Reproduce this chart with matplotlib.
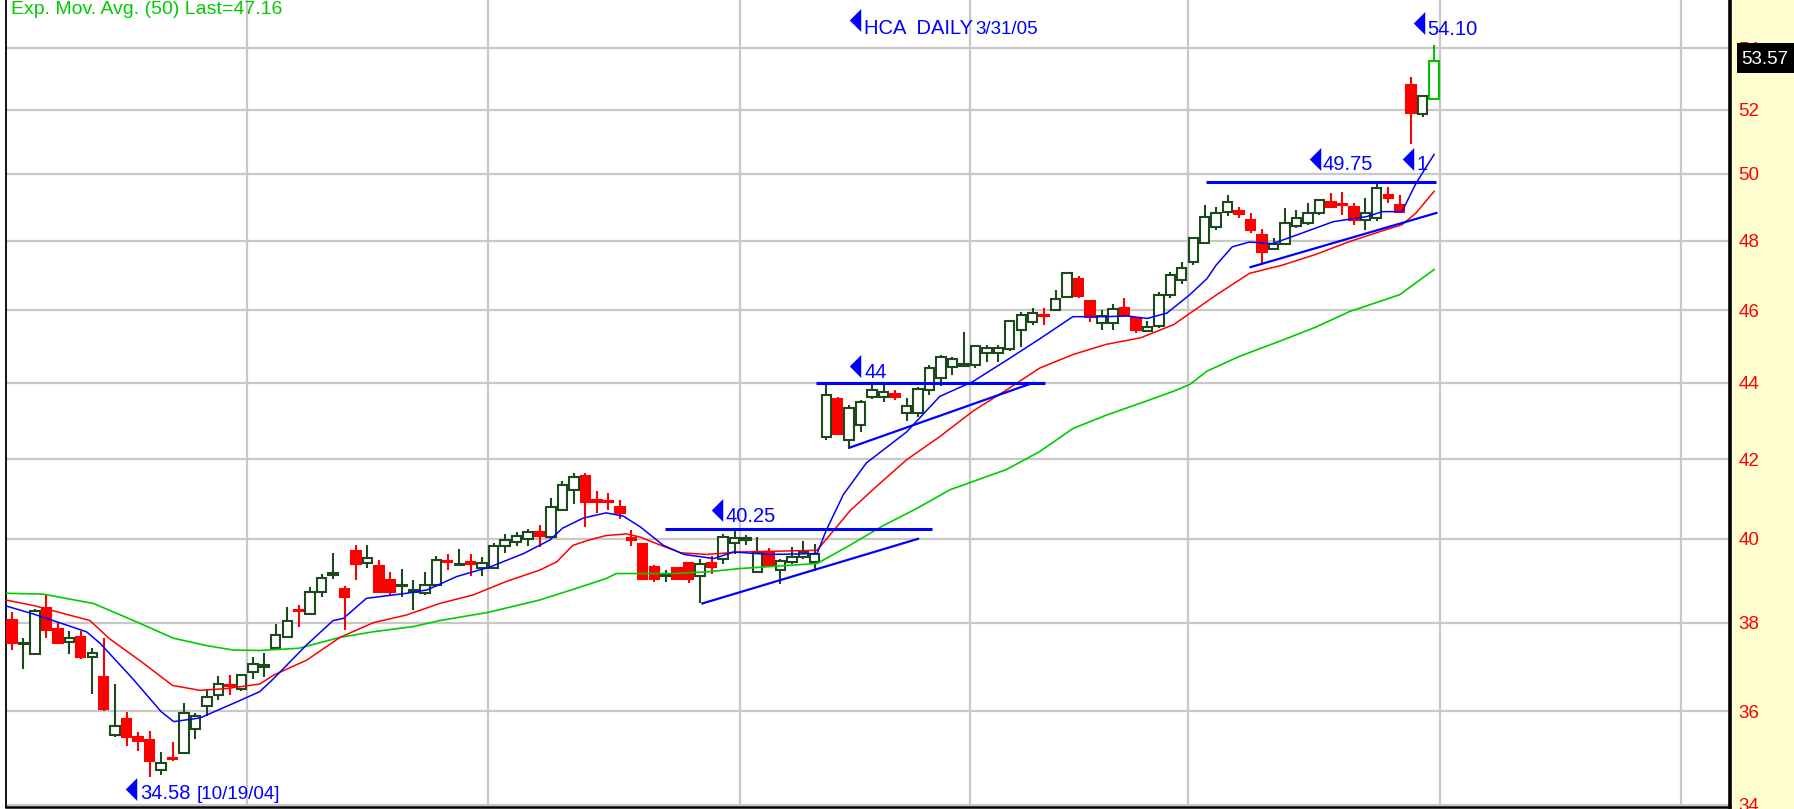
import numpy as np
import matplotlib
matplotlib.use("Agg")
import matplotlib.pyplot as plt
from matplotlib.patches import Rectangle
from matplotlib.ticker import NullLocator

# HCA daily bars, one per trading day from 10/1/04 to 3/31/05
opens = [38.06, 37.50, 37.29, 38.35, 37.85, 37.55, 37.66, 37.20, 36.77, 35.48,
         35.82, 35.43, 35.38, 34.73, 34.98, 35.10, 35.61, 36.11, 36.36, 36.58,
         36.49, 36.88, 36.98, 37.41, 37.68, 38.29, 38.21, 38.73, 39.13, 38.79,
         39.70, 39.41, 39.33, 39.00, 38.86, 38.73, 38.70, 38.89, 39.47, 39.37,
         39.43, 39.30, 39.30, 39.83, 39.93, 40.00, 40.16, 40.04, 40.72, 41.20,
         41.57, 40.95, 40.94, 40.78, 40.03, 39.87, 39.32, 39.10, 39.30, 39.42,
         39.10, 39.42, 39.52, 39.90, 39.97, 39.20, 39.68, 39.24, 39.44, 39.56,
         39.44, 42.56, 43.58, 42.48, 42.88, 43.63, 43.63, 43.70, 43.20, 43.20,
         43.82, 44.14, 44.42, 44.47, 44.49, 44.80, 44.80, 44.91, 45.45, 45.68,
         45.88, 46.00, 46.37, 46.88, 46.25, 45.63, 45.65, 46.06, 45.77, 45.42,
         45.56, 46.43, 46.86, 47.39, 47.92, 48.41, 48.86, 48.89, 48.61, 48.17,
         47.75, 47.90, 48.43, 48.51, 48.81, 49.16, 49.10, 49.01, 48.61, 48.66,
         49.36, 49.06, 52.80, 51.87, 52.35]
highs = [38.26, 37.64, 38.32, 38.65, 38.02, 37.81, 37.81, 37.42, 37.64, 36.61,
         35.97, 35.55, 35.57, 35.12, 35.33, 36.19, 35.96, 36.49, 36.79, 36.81,
         36.82, 37.20, 37.30, 37.98, 38.37, 38.41, 38.85, 39.16, 39.65, 38.87,
         39.86, 39.86, 39.48, 39.20, 39.28, 39.00, 39.20, 39.57, 39.64, 39.76,
         39.64, 39.56, 39.91, 40.11, 40.16, 40.25, 40.33, 41.00, 41.44, 41.64,
         41.64, 41.19, 41.14, 40.96, 40.21, 39.91, 39.36, 39.24, 39.30, 39.42,
         39.52, 39.58, 40.12, 40.25, 40.10, 40.05, 39.77, 39.52, 39.80, 39.94,
         39.88, 44.00, 43.63, 43.41, 43.55, 44.00, 44.00, 43.81, 43.59, 43.90,
         44.48, 44.75, 44.71, 45.40, 45.03, 45.03, 45.03, 45.72, 45.96, 46.06,
         46.06, 46.57, 47.07, 46.97, 46.30, 46.00, 46.17, 46.36, 45.82, 45.70,
         46.52, 47.10, 47.38, 48.12, 49.06, 49.01, 49.36, 49.01, 48.83, 48.33,
         48.07, 48.96, 48.91, 49.11, 49.23, 49.43, 49.46, 49.11, 49.26, 49.75,
         49.61, 49.36, 53.04, 52.48, 54.10]
lows = [37.38, 36.94, 37.25, 37.64, 37.50, 37.27, 37.16, 36.37, 36.00, 35.44,
        35.25, 35.14, 34.58, 34.62, 34.92, 35.07, 35.40, 35.89, 36.24, 36.36,
        36.45, 36.71, 36.75, 37.37, 37.66, 37.91, 38.17, 38.61, 39.04, 37.83,
        39.00, 39.30, 38.73, 38.65, 38.61, 38.30, 38.65, 38.85, 39.24, 39.36,
        39.10, 39.10, 39.28, 39.66, 39.83, 39.83, 39.80, 40.00, 40.68, 40.85,
        40.30, 40.63, 40.72, 40.50, 39.83, 39.00, 38.96, 38.96, 39.00, 38.93,
        38.47, 39.16, 39.40, 39.64, 39.85, 39.18, 39.32, 38.92, 39.40, 39.52,
        39.28, 42.48, 42.62, 42.26, 42.71, 43.58, 43.50, 43.54, 43.00, 43.10,
        43.67, 43.93, 44.21, 44.44, 44.40, 44.57, 44.57, 44.87, 44.98, 45.59,
        45.59, 45.99, 46.34, 46.34, 45.68, 45.44, 45.46, 45.82, 45.36, 45.42,
        45.50, 46.34, 46.74, 47.29, 47.90, 48.31, 48.72, 48.66, 48.23, 47.36,
        47.72, 47.87, 48.36, 48.46, 48.76, 48.96, 48.76, 48.46, 48.31, 48.59,
        49.11, 48.81, 50.93, 51.77, 52.35]
closes = [37.53, 37.52, 38.28, 37.83, 37.53, 37.64, 37.20, 37.31, 36.04, 35.67,
          35.44, 35.34, 34.92, 34.87, 34.96, 35.96, 35.89, 36.31, 36.60, 36.55,
          36.81, 37.06, 37.03, 37.72, 38.05, 38.27, 38.73, 39.05, 39.17, 38.61,
          39.40, 39.53, 38.73, 38.73, 38.88, 38.75, 38.89, 39.48, 39.44, 39.39,
          39.40, 39.42, 39.83, 39.98, 40.08, 40.16, 40.06, 40.78, 41.35, 41.55,
          40.92, 40.91, 40.90, 40.63, 39.97, 39.04, 39.04, 39.12, 39.04, 39.04,
          39.40, 39.32, 40.05, 40.02, 40.02, 39.67, 39.34, 39.45, 39.56, 39.68,
          39.64, 43.67, 42.66, 43.32, 43.49, 43.80, 43.77, 43.63, 43.38, 43.83,
          44.41, 44.71, 44.64, 44.51, 45.00, 44.94, 44.94, 45.70, 45.87, 45.92,
          45.85, 46.33, 47.05, 46.41, 45.82, 45.84, 46.03, 45.87, 45.46, 45.54,
          46.43, 47.00, 47.19, 48.07, 48.71, 48.83, 49.14, 48.79, 48.31, 47.68,
          47.90, 48.53, 48.66, 48.81, 49.21, 49.01, 49.07, 48.61, 48.83, 49.56,
          49.26, 48.86, 51.91, 52.44, 53.57]

ema_fast_x = [-0.5, 1.9, 6.5, 7.7, 10.6, 13.0, 14.1, 16.4, 19.3, 21.6, 22.8, 25.7,
              28.0, 28.9, 30.9, 34.4, 36.2, 38.8, 41.7, 44.6, 46.9, 48.0, 49.8,
              51.8, 53.3, 54.8, 56.8, 58.6, 61.2, 62.9, 66.0, 70.2, 71.0, 72.5,
              74.5, 78.0, 80.9, 83.8, 86.7, 89.6, 92.5, 95.4, 97.2, 99.0, 100.7,
              102.7, 104.2, 105.0, 106.4, 107.9, 109.9, 112.3, 115.2, 118.1,
              119.5, 121.2, 122.4, 124.0]
ema_fast_y = [38.39, 38.20, 37.79, 37.52, 36.70, 35.99, 35.77, 35.85, 36.17, 36.43,
              36.72, 37.49, 38.05, 38.10, 38.57, 38.69, 38.77, 39.09, 39.32, 39.64,
              39.97, 40.26, 40.51, 40.64, 40.56, 40.29, 39.84, 39.62, 39.52, 39.68,
              39.62, 39.64, 40.21, 41.10, 41.90, 42.70, 43.64, 44.04, 44.61, 45.20,
              45.82, 45.82, 45.84, 45.77, 45.92, 46.44, 46.90, 47.29, 47.82, 47.96,
              47.91, 48.20, 48.56, 48.71, 48.86, 48.86, 49.70, 50.60]
ema_mid_x = [-0.5, 1.9, 6.8, 8.5, 11.2, 14.0, 16.4, 18.7, 21.6, 22.8, 25.7, 28.6,
             31.5, 34.4, 37.3, 40.2, 43.1, 46.0, 47.5, 48.9, 50.3, 51.8, 53.6,
             54.8, 56.6, 58.3, 60.6, 63.5, 70.2, 73.1, 75.1, 78.0, 80.9, 83.8,
             86.7, 89.6, 92.5, 95.4, 98.4, 101.3, 104.2, 105.0, 107.9, 110.8,
             113.7, 116.6, 119.5, 121.2, 122.4, 124.0]
ema_mid_y = [38.53, 38.40, 38.05, 37.63, 37.12, 36.57, 36.46, 36.50, 36.60, 36.80,
             37.14, 37.66, 38.00, 38.18, 38.45, 38.65, 38.97, 39.24, 39.44, 39.84,
             39.97, 40.08, 40.12, 40.04, 39.84, 39.66, 39.62, 39.68, 39.72, 40.70,
             41.23, 41.98, 42.58, 43.25, 43.81, 44.40, 44.77, 45.05, 45.23, 45.60,
             46.25, 46.43, 47.05, 47.29, 47.60, 47.97, 48.29, 48.47, 48.81, 49.47]
ema50_x = [-0.5, 2.7, 7.1, 10.6, 14.1, 17.0, 19.3, 21.6, 25.0, 28.6, 31.5, 35.0,
           37.3, 41.5, 46.0, 48.9, 51.8, 52.7, 57.7, 60.6, 63.5, 70.2, 73.1, 76.0,
           78.9, 81.8, 86.7, 89.6, 92.5, 95.4, 98.4, 101.3, 102.7, 104.2, 107.1,
           110.8, 113.7, 116.6, 121.0, 124.0]
ema50_y = [38.69, 38.67, 38.45, 38.05, 37.64, 37.47, 37.37, 37.36, 37.41, 37.66,
           37.79, 37.91, 38.05, 38.24, 38.53, 38.78, 39.04, 39.16, 39.16, 39.20,
           39.28, 39.40, 39.85, 40.33, 40.75, 41.22, 41.73, 42.19, 42.79, 43.14,
           43.46, 43.78, 43.96, 44.32, 44.73, 45.17, 45.53, 45.96, 46.44, 47.16]

# drawn resistance levels and rising support lines
levels = [40.25, 44.00, 49.75]
level_spans = [(56.9, 80.2), (70.1, 90.1), (104.1, 124.2)]
support_x = [(60.2, 79.0), (73.1, 89.0), (108.0, 124.2)]
support_y = [(38.45, 40.00), (42.30, 44.00), (47.23, 48.82)]

month_first_day = [21, 42, 64, 84, 103, 125, 146]
price_ticks = list(range(34, 56, 2))

W, H = 1794, 809
narrow = ['Liberation Sans Narrow', 'Liberation Sans', 'DejaVu Sans']
regular = ['Liberation Sans', 'DejaVu Sans']
BLUE = '#0000ff'
UP = '#1c4a1c'
DOWN = '#ff0000'

fig = plt.figure(figsize=(W / 100, H / 100), dpi=100, facecolor='white')
fig.patches.append(Rectangle((1731 / W, 0), 1 - 1731 / W, 1, transform=fig.transFigure,
                             facecolor='#ffffd2', edgecolor='none', zorder=-5))
ax = fig.add_axes([6 / W, 2 / H, 1724 / W, 807 / H])
ax.set_facecolor('white')
ax.set_yscale('log')
ax.set_xlim(-0.52, 149.8)
ax.set_ylim(33.95, 55.61)

# grid
ax.set_yticks(price_ticks, labels=[str(t) for t in price_ticks])
ax.yaxis.set_minor_locator(NullLocator())
ax.set_xticks([d - 0.5 for d in month_first_day], labels=[])
ax.grid(True, color='#c8c8c8', lw=1.6, zorder=0)
ax.set_axisbelow(True)
ax.yaxis.tick_right()
ax.tick_params(axis='both', length=0)
ax.tick_params(axis='y', pad=6, labelcolor='red', labelsize=13.5)
for lab in ax.get_yticklabels():
    lab.set_family(regular)

ax.spines['top'].set_visible(False)
ax.spines['left'].set_linewidth(1.3)
ax.spines['bottom'].set_linewidth(1.8)
ax.spines['right'].set_linewidth(2.6)

# candles
x = np.arange(len(closes))
o, h, l, c = map(np.array, (opens, highs, lows, closes))
up = c >= o
edge = [UP if u else DOWN for u in up]
edge[-1] = '#00c000'
face = ['white' if u else DOWN for u in up]
body_lo = np.minimum(o, c)
body_h = np.maximum(np.abs(c - o), 0.03)
ax.vlines(x, l, h, colors=edge, lw=1.5, zorder=3)
ax.bar(x, body_h, bottom=body_lo, width=0.82, color=face, edgecolor=edge,
       linewidth=1.5, zorder=4)

# moving averages
ax.plot(ema50_x, ema50_y, color='#00cc00', lw=1.2, zorder=5)
ax.plot(ema_mid_x, ema_mid_y, color='#ff0000', lw=1.1, zorder=5)
ax.plot(ema_fast_x, ema_fast_y, color=BLUE, lw=1.1, zorder=5)

# trend lines
for lev, (x0, x1) in zip(levels, level_spans):
    ax.plot([x0, x1], [lev, lev], color=BLUE, lw=2.2, zorder=6, solid_capstyle='butt')
for xs, ys in zip(support_x, support_y):
    ax.plot(xs, ys, color=BLUE, lw=1.6, zorder=6)

# flags: left-pointing triangle followed by text
tri = [(-0.5, 0), (0.5, 1), (0.5, -1), (-0.5, 0)]


def flag(xt, yt, xs, ys, text, size=14.5):
    ax.plot([xt], [yt], marker=tri, ms=16.5, color=BLUE, mec=BLUE, mew=0,
            zorder=7, clip_on=False)
    ax.text(xs, ys, text, color=BLUE, fontsize=size, family=narrow,
            va='baseline', ha='left', zorder=7, clip_on=False)


flag(73.5, 54.93, 74.3, 54.46, 'HCA  DAILY')
ax.text(84.0, 54.46, '3/31/05', color=BLUE, fontsize=13.5, family=narrow,
        va='baseline', ha='left', zorder=7)
flag(122.7, 54.82, 123.4, 54.43, f'{highs[-1]:.2f}')
flag(113.6, 50.47, 114.3, 50.12, f'{levels[2]:.2f}')
flag(121.7, 50.47, 122.5, 50.12, '1')
flag(73.5, 44.45, 74.3, 44.13, f'{levels[1]:.0f}')
flag(61.5, 40.70, 62.25, 40.42, f'{levels[0]:.2f}')
flag(10.4, 34.33, 11.2, 34.12, f'{min(lows):.2f}')
ax.text(16.1, 34.12, '[10/19/04]', color=BLUE, fontsize=13.5, family=narrow,
        va='baseline', ha='left', zorder=7)

# indicator caption
fig.text(11 / W, 1 - 1 / H, f'Exp. Mov. Avg. (50) Last={ema50_y[-1]:.2f}',
         color='#00cc00', fontsize=14, family=narrow, va='top', ha='left')

# last price box on the scale
fig.patches.append(Rectangle((1737 / W, 1 - 73 / H), 57 / W, 30 / H,
                             transform=fig.transFigure, facecolor='black',
                             edgecolor='none', zorder=10))
fig.text(1765 / W, 1 - 59 / H, f'{closes[-1]:.2f}', color='white', fontsize=13.5,
         family=regular, va='center', ha='center', zorder=11)

fig.savefig('out.png', dpi=100, facecolor=fig.get_facecolor())
